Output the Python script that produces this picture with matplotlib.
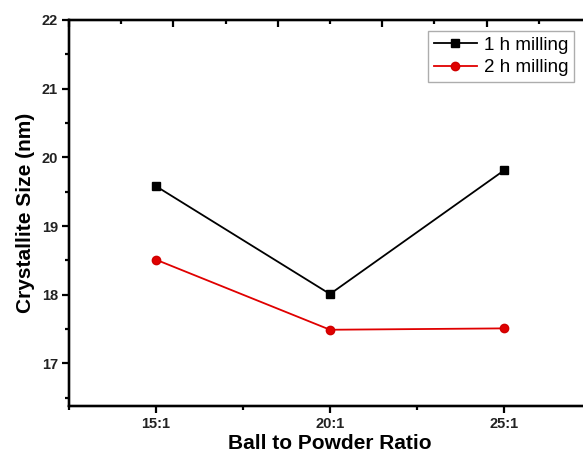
import matplotlib
matplotlib.use("Agg")
import matplotlib.pyplot as plt
from matplotlib.ticker import MultipleLocator

plt.rcParams['font.family'] = ['Liberation Sans', 'DejaVu Sans']

ratios = [15, 20, 25]
ratio_labels = ["15:1", "20:1", "25:1"]
size_1h = [19.58, 18.01, 19.81]
size_2h = [18.51, 17.49, 17.51]

fig = plt.figure(figsize=(5.83, 4.65), dpi=100)
ax = fig.add_axes([0.1184, 0.1269, 0.8953, 0.8301])

ax.plot(ratios, size_1h, color='black', marker='s', markersize=5.5, lw=1.3,
        label='1 h milling')
ax.plot(ratios, size_2h, color='#e00000', marker='o', markersize=6, lw=1.3,
        label='2 h milling', markeredgecolor='#d00000')

ax.set_xlim(12.5, 27.5)
ax.set_ylim(16.38, 22)
ax.set_xticks(ratios)
ax.set_xticklabels(ratio_labels)
ax.xaxis.set_minor_locator(MultipleLocator(2.5))
ax.yaxis.set_major_locator(MultipleLocator(1))
ax.yaxis.set_minor_locator(MultipleLocator(0.5))

for s in ax.spines.values():
    s.set_linewidth(1.6)
ax.tick_params(which='major', direction='out', length=5, width=1.6,
               labelsize=10.5, pad=3)
ax.tick_params(which='minor', direction='out', length=3, width=1.6)
for lbl in ax.get_xticklabels() + ax.get_yticklabels():
    lbl.set_fontweight('bold')
    lbl.set_color('#222222')

ax.set_xlabel('Ball to Powder Ratio', fontsize=15, fontweight='bold', labelpad=2)
ax.set_ylabel('Crystallite Size (nm)', fontsize=15, fontweight='bold', labelpad=5)

# mirrored frame ticks on the top and right edges
top = ax.twiny()
top.set_xlim(0, 5)
top.xaxis.set_major_locator(MultipleLocator(1))
top.xaxis.set_minor_locator(MultipleLocator(0.5))
top.tick_params(which='major', direction='in', length=5, width=1.6, labeltop=False)
top.tick_params(which='minor', direction='in', length=3, width=1.6)

right = ax.twinx()
right.set_ylim(0, 5.08)
right.yaxis.set_major_locator(MultipleLocator(1))
right.yaxis.set_minor_locator(MultipleLocator(0.5))
right.tick_params(which='major', direction='in', length=3, width=1.2, labelright=False)
right.tick_params(which='minor', direction='in', length=0)
for a in (top, right):
    for s in a.spines.values():
        s.set_linewidth(1.6)

leg = ax.legend(loc='upper left', bbox_to_anchor=(428 / 583, 1 - 31 / 465),
                bbox_transform=fig.transFigure, fontsize=13.5, frameon=True,
                fancybox=False, edgecolor='#999999', borderpad=0.3,
                labelspacing=0.3, handlelength=2.3, handletextpad=0.4,
                borderaxespad=0)
leg.get_frame().set_linewidth(1.0)
leg.set_zorder(5)

fig.savefig('out.png', dpi=100)
